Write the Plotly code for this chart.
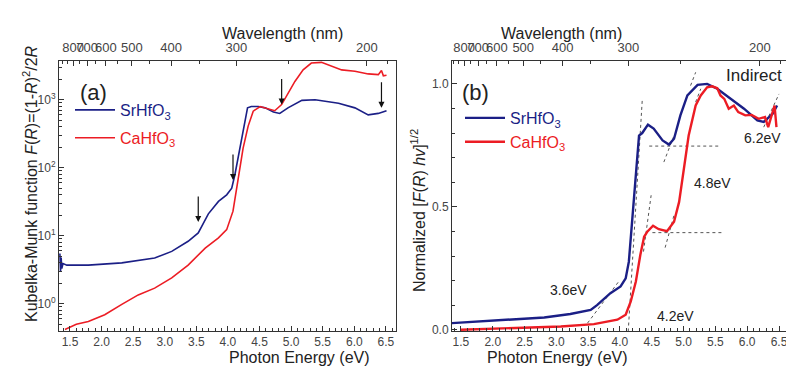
import math
import plotly.graph_objects as go

# ---------------- data: panel (a) Kubelka-Munk F(R) vs photon energy ----------------
a_E_sr = [1.34, 1.35, 1.36, 1.37, 1.39, 1.45, 1.79, 2.32, 2.84, 3.11, 3.37, 3.53, 3.69, 3.85,
          3.98, 4.06, 4.11, 4.19, 4.26, 4.31, 4.37, 4.48, 4.59, 4.72, 4.82, 4.95, 5.17,
          5.38, 5.75, 6.01, 6.22, 6.38, 6.51]
a_F_sr = [5.5, 3.0, 4.8, 3.3, 3.9, 3.7, 3.7, 4.0, 4.7, 5.9, 8.3, 11, 21, 32,
          40, 50, 79, 195, 480, 760, 795, 795, 760, 660, 630, 760, 980,
          1000, 890, 760, 600, 630, 690]

a_E_ca = [1.42, 1.53, 1.60, 1.79, 2.05, 2.32, 2.58, 2.84, 3.11, 3.37, 3.64, 3.85, 3.98,
          4.08, 4.16, 4.24, 4.32, 4.40, 4.51, 4.64, 4.74, 4.85, 4.95, 5.06, 5.19,
          5.32, 5.48, 5.64, 5.80, 6.01, 6.22, 6.38, 6.43, 6.46, 6.51]
a_F_ca = [0.42, 0.47, 0.50, 0.55, 0.69, 0.98, 1.35, 1.7, 2.4, 3.7, 6.6, 9.3, 12.3,
          23, 63, 195, 410, 680, 795, 740, 690, 850, 1260, 1860, 2750,
          3470, 3550, 3090, 2750, 2630, 2400, 2340, 2700, 2250, 2290]

arrow_E = [3.53, 4.08, 4.85, 6.43]
arrow_F = [16, 66, 850, 760]

# ---------------- data: panel (b) normalized [F(R) hv]^1/2 ----------------
b_E_sr = [1.35, 1.76, 2.28, 2.81, 3.22, 3.54, 3.64, 3.72, 3.85, 4.01, 4.09, 4.14, 4.19,
          4.25, 4.30, 4.35, 4.44, 4.53, 4.67, 4.77, 4.85, 4.95, 5.06, 5.22, 5.37,
          5.53, 5.74, 5.95, 6.16, 6.26, 6.40, 6.47]
b_N_sr = [0.027, 0.034, 0.041, 0.050, 0.064, 0.081, 0.100, 0.120, 0.149, 0.176, 0.209, 0.277, 0.44,
          0.64, 0.79, 0.80, 0.834, 0.818, 0.770, 0.753, 0.777, 0.872, 0.953, 0.996, 1.0,
          0.98, 0.939, 0.899, 0.851, 0.845, 0.878, 0.912]

b_E_ca = [1.50, 2.28, 3.07, 3.59, 3.96, 4.09, 4.17, 4.25, 4.32, 4.38, 4.43, 4.52, 4.61,
          4.74, 4.85, 4.93, 5.01, 5.08, 5.19, 5.27, 5.37, 5.45, 5.53, 5.58, 5.64, 5.71,
          5.79, 5.86, 5.97, 6.07, 6.18, 6.28, 6.33, 6.38, 6.43, 6.46]
b_N_ca = [0.0, 0.007, 0.0135, 0.023, 0.041, 0.061, 0.115, 0.196, 0.304, 0.378, 0.399, 0.423, 0.409,
          0.401, 0.439, 0.52, 0.669, 0.79, 0.912, 0.953, 0.986, 0.99, 0.982, 0.953, 0.939, 0.899,
          0.912, 0.885, 0.872, 0.874, 0.858, 0.865, 0.824, 0.872, 0.912, 0.824]

tangent_E = [[3.49, 3.98], [4.13, 4.35], [4.37, 4.49], [4.51, 5.61], [4.71, 4.85],
             [4.46, 5.56], [4.69, 4.85], [5.11, 5.19], [5.19, 5.27], [6.26, 6.50]]
tangent_N = [[0.027, 0.196], [-0.007, 0.932], [0.318, 0.547], [0.395, 0.395], [0.334, 0.466],
             [0.747, 0.747], [0.682, 0.79], [0.993, 1.047], [0.926, 0.98], [0.824, 0.959]]

label_text = ["3.6eV", "4.2eV", "4.8eV", "6.2eV", "Indirect"]
label_E = [3.19, 4.875, 5.46, 6.56, 6.58]
label_N = [0.162, 0.054, 0.595, 0.78, 1.034]
label_anchor = ["center", "center", "center", "right", "right"]
label_size = [14, 14, 14, 14, 17]

# top axis wavelengths (nm)
wl_major = [800, 700, 600, 500, 400, 300, 200]
wl_minor = [900, 850, 750, 650, 550, 450, 350, 250, 190]
HC = 1239.84

# ---------------- styling ----------------
W, H = 786, 379
BLUE = "#1b1f86"
RED = "#ec1c24"
FONT = "Arial, Liberation Sans, sans-serif"
TICKC = "#444444"
TXT = "#222222"
LINEC = "#333333"


def px(x):
    return x / W


def py(y):
    return 1 - y / H


fig = go.Figure()

# panel (a)
fig.add_trace(go.Scatter(x=a_E_sr, y=a_F_sr, mode="lines", line=dict(color=BLUE, width=1.6),
                         name='<span style="color:%s">SrHfO<sub>3</sub></span>' % BLUE,
                         xaxis="x", yaxis="y", legend="legend", legendgroup="a1"))
fig.add_trace(go.Scatter(x=a_E_ca, y=a_F_ca, mode="lines", line=dict(color=RED, width=1.6),
                         name='<span style="color:%s">CaHfO<sub>3</sub></span>' % RED,
                         xaxis="x", yaxis="y", legend="legend", legendgroup="a2"))

# panel (b)
for xs, ys in zip(tangent_E, tangent_N):
    fig.add_trace(go.Scatter(x=xs, y=ys, mode="lines", line=dict(color="#555555", width=1, dash="dot"),
                             showlegend=False, hoverinfo="skip", xaxis="x2", yaxis="y2"))
fig.add_trace(go.Scatter(x=b_E_sr, y=b_N_sr, mode="lines", line=dict(color=BLUE, width=2.4),
                         name='<span style="color:%s">SrHfO<sub>3</sub></span>' % BLUE,
                         xaxis="x2", yaxis="y2", legend="legend2", legendgroup="b1"))
fig.add_trace(go.Scatter(x=b_E_ca, y=b_N_ca, mode="lines", line=dict(color=RED, width=2.4),
                         name='<span style="color:%s">CaHfO<sub>3</sub></span>' % RED,
                         xaxis="x2", yaxis="y2", legend="legend2", legendgroup="b2"))

# dummy traces to activate top (wavelength) axes
fig.add_trace(go.Scatter(x=[None], y=[None], xaxis="x3", yaxis="y", showlegend=False, hoverinfo="skip"))
fig.add_trace(go.Scatter(x=[None], y=[None], xaxis="x4", yaxis="y2", showlegend=False, hoverinfo="skip"))

xdom_a = [px(59), px(396)]
xdom_b = [px(452), 1.0]
ydom = [py(331), py(61)]
xr_a = [1.326, 6.66]
xr_b = [1.36, 6.61]

tickfont = dict(family=FONT, size=12, color=TICKC)

common_x = dict(showgrid=False, zeroline=False, showline=True, linecolor=LINEC, linewidth=1,
                mirror=True, ticks="inside", ticklen=5, tickcolor=LINEC, tickfont=tickfont,
                tickmode="linear", tick0=1.5, dtick=0.5, tickformat=".1f", automargin=False,
                ticklabeloverflow="allow", tickangle=0,
                minor=dict(ticks="inside", ticklen=3, dtick=0.1, tick0=1.5, tickcolor=LINEC))

top_x = dict(showgrid=False, zeroline=False, showline=False, side="top", automargin=False,
             ticks="inside", ticklen=5, tickcolor=LINEC, tickfont=dict(family=FONT, size=13, color=TICKC),
             tickangle=0, ticklabeloverflow="allow", ticklabelstandoff=5,
             tickmode="array", tickvals=[HC / w for w in wl_major], ticktext=[str(w) for w in wl_major],
             minor=dict(ticks="inside", ticklen=3, tickcolor=LINEC, tickmode="array",
                        tickvals=[HC / w for w in wl_minor]))

log_minor = [m * 10 ** k for k in range(-1, 4) for m in range(2, 10)]

fig.update_layout(
    template="none",
    width=W, height=H, margin=dict(l=0, r=0, t=0, b=0, pad=0),
    paper_bgcolor="white", plot_bgcolor="white",
    font=dict(family=FONT, color=TXT),
    xaxis=dict(domain=xdom_a, range=xr_a, anchor="y", **common_x),
    yaxis=dict(domain=ydom, type="log", range=[-0.4, 3.57], anchor="x", automargin=False,
               showgrid=False, zeroline=False, showline=True, linecolor=LINEC, linewidth=1, mirror=True,
               ticks="inside", ticklen=5, tickcolor=LINEC, tickfont=tickfont,
               tickmode="array", tickvals=[1, 10, 100, 1000],
               ticktext=["10<sup>0</sup>", "10<sup>1</sup>", "10<sup>2</sup>", "10<sup>3</sup>"],
               minor=dict(ticks="inside", ticklen=3, tickcolor=LINEC, tickmode="array", tickvals=log_minor)),
    xaxis3=dict(overlaying="x", anchor="y", range=xr_a, **top_x),
    xaxis2=dict(domain=xdom_b, range=xr_b, anchor="y2", **common_x),
    yaxis2=dict(domain=ydom, range=[-0.005, 1.093], anchor="x2", automargin=False,
                showgrid=False, zeroline=False, showline=True, linecolor=LINEC, linewidth=1, mirror=False,
                ticks="inside", ticklen=5, tickcolor=LINEC, tickfont=tickfont,
                tickmode="linear", tick0=0, dtick=0.5, tickformat=".1f",
                minor=dict(ticks="inside", ticklen=3, dtick=0.1, tick0=0, tickcolor=LINEC)),
    xaxis4=dict(overlaying="x2", anchor="y2", range=xr_b, **top_x),
    legend=dict(x=px(70), y=py(93), xanchor="left", yanchor="top", bgcolor="rgba(0,0,0,0)",
                font=dict(family=FONT, size=16), tracegroupgap=4, itemwidth=40, borderwidth=0),
    legend2=dict(x=px(460), y=py(101), xanchor="left", yanchor="top", bgcolor="rgba(0,0,0,0)",
                 font=dict(family=FONT, size=16), tracegroupgap=0, itemwidth=40, borderwidth=0),
    showlegend=True,
)

# arrows in (a)
for e, f in zip(arrow_E, arrow_F):
    fig.add_annotation(x=e, y=math.log10(f), xref="x", yref="y", ax=0, ay=-27, text="",
                       showarrow=True, arrowhead=2, arrowsize=1, arrowwidth=1.2, arrowcolor="#111111")

# labels in (b)
for t, e, n, a, s in zip(label_text, label_E, label_N, label_anchor, label_size):
    fig.add_annotation(x=e, y=n, xref="x2", yref="y2", text=t, showarrow=False, xanchor=a,
                       font=dict(family=FONT, size=s, color=TXT))

# panel tags
fig.add_annotation(x=px(78), y=py(78), xref="paper", yref="paper", text="(a)", showarrow=False,
                   font=dict(family=FONT, size=22, color=TXT))
fig.add_annotation(x=px(475), y=py(78), xref="paper", yref="paper", text="(b)", showarrow=False,
                   font=dict(family=FONT, size=22, color=TXT))

# axis titles
title_font = dict(family=FONT, size=16, color=TXT)
fig.add_annotation(x=px(227), y=py(368), xref="paper", yref="paper", text="Photon Energy (eV)",
                   showarrow=False, font=title_font)
fig.add_annotation(x=px(630), y=py(368), xref="paper", yref="paper", text="Photon Energy (eV)",
                   showarrow=False, font=title_font)
fig.add_annotation(x=px(220), y=py(23), xref="paper", yref="paper", text="Wavelength (nm)",
                   showarrow=False, font=title_font)
fig.add_annotation(x=px(624), y=py(23), xref="paper", yref="paper", text="Wavelength (nm)",
                   showarrow=False, font=title_font)
fig.add_annotation(x=px(18), y=py(184), xref="paper", yref="paper", textangle=-90,
                   text="Kubelka-Munk function <i>F</i>(<i>R</i>)=(1-<i>R</i>)<sup>2</sup>/2<i>R</i>",
                   showarrow=False, font=title_font)
fig.add_annotation(x=px(418), y=py(211), xref="paper", yref="paper", textangle=-90,
                   text="Normalized [<i>F</i>(<i>R</i>) <i>hv</i>]<sup>1/2</sup>",
                   showarrow=False, font=title_font)

fig.write_html("out.html", config={"displayModeBar": False},
               post_script="document.body.style.margin='0px';")
